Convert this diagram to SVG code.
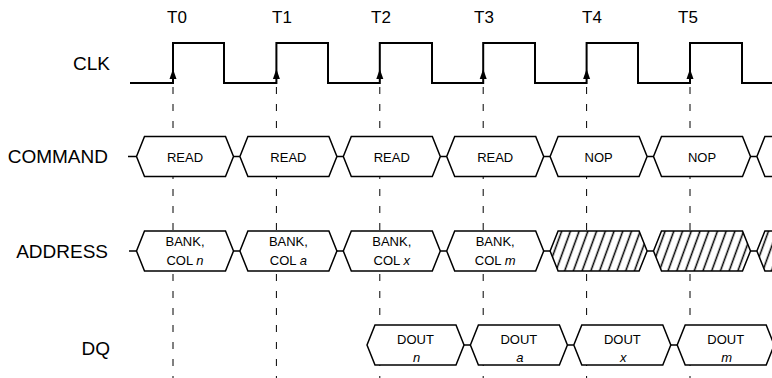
<svg xmlns="http://www.w3.org/2000/svg" xmlns:xlink="http://www.w3.org/1999/xlink" width="772" height="378" viewBox="0 0 772 378">
<style>
.lbl{font-family:"Liberation Sans",Arial,sans-serif;font-size:19px;fill:#000;text-anchor:end}
.tl{font-family:"Liberation Sans",Arial,sans-serif;font-size:17px;fill:#000;text-anchor:middle}
.bt{font-family:"Liberation Sans",Arial,sans-serif;font-size:13px;fill:#000;text-anchor:middle}
.box{fill:#fff;stroke:#000;stroke-width:1.5;stroke-linejoin:miter}
.hat{fill:url(#hatch);stroke:#000;stroke-width:1.5}
.wire{fill:none;stroke:#000;stroke-width:1.5}
.clk{fill:none;stroke:#000;stroke-width:2}
.dash{stroke:#000;stroke-width:1;stroke-dasharray:7 10}
.i{font-style:italic}
</style>
<defs>
<path id="hex" d="M0,0 L8,-20 L89,-20 L97,0 L89,20 L8,20 Z"/>
<pattern id="hatch" patternUnits="userSpaceOnUse" width="8.2" height="10" patternTransform="rotate(20)">
<rect x="0" y="0" width="8.2" height="10" fill="#fff"/>
<line x1="4.1" y1="-1" x2="4.1" y2="11" stroke="#000" stroke-width="1.5"/>
</pattern>
</defs>
<rect width="772" height="378" fill="#fff"/>

<g id="labels">
<text class="tl" x="177" y="23">T0</text>
<text class="tl" x="282" y="23">T1</text>
<text class="tl" x="381" y="23">T2</text>
<text class="tl" x="484" y="23">T3</text>
<text class="tl" x="592" y="23">T4</text>
<text class="tl" x="688" y="23">T5</text>
<text class="lbl" x="110" y="70">CLK</text>
<text class="lbl" x="108" y="163">COMMAND</text>
<text class="lbl" x="108" y="258">ADDRESS</text>
<text class="lbl" x="110" y="355">DQ</text>
</g>

<g id="connectors">
<line class="dash" x1="173" y1="87" x2="173" y2="378"/>
<line class="dash" x1="276.4" y1="87" x2="276.4" y2="378"/>
<line class="dash" x1="379.8" y1="87" x2="379.8" y2="378"/>
<line class="dash" x1="483.2" y1="87" x2="483.2" y2="378"/>
<line class="dash" x1="586.6" y1="87" x2="586.6" y2="378"/>
<line class="dash" x1="690" y1="87" x2="690" y2="378"/>
<path class="wire" d="M128,156.5 H136.5 M233.5,156.5 H239.9 M336.9,156.5 H343.3 M440.3,156.5 H446.7 M543.7,156.5 H550.1 M647.1,156.5 H653.5 M750.5,156.5 H756.9"/>
<path class="wire" d="M129,251 H136.5 M233.5,251 H239.9 M336.9,251 H343.3 M440.3,251 H446.7 M543.7,251 H550.1 M647.1,251 H653.5 M750.5,251 H756.9"/>
<path class="wire" d="M464,345 H470.4 M567.4,345 H573.8 M670.8,345 H677.2"/>
</g>

<g id="clk">
<path class="clk" d="M130,83 H173 V43 H224 V83 H276.4 V43 H328 V83 H379.8 V43 H432 V83 H483.2 V43 H535 V83 H586.6 V43 H638 V83 H690 V43 H742 V83 H772"/>
<polygon points="173,69 169.5,79 176.5,79"/>
<polygon points="276.4,69 272.9,79 279.9,79"/>
<polygon points="379.8,69 376.3,79 383.3,79"/>
<polygon points="483.2,69 479.7,79 486.7,79"/>
<polygon points="586.6,69 583.1,79 590.1,79"/>
<polygon points="690,69 686.5,79 693.5,79"/>
</g>

<g id="cmd0"><use class="box" xlink:href="#hex" x="136.5" y="156.5"/><text class="bt" x="185" y="161.5">READ</text></g>
<g id="cmd1"><use class="box" xlink:href="#hex" x="239.9" y="156.5"/><text class="bt" x="288.4" y="161.5">READ</text></g>
<g id="cmd2"><use class="box" xlink:href="#hex" x="343.3" y="156.5"/><text class="bt" x="391.8" y="161.5">READ</text></g>
<g id="cmd3"><use class="box" xlink:href="#hex" x="446.7" y="156.5"/><text class="bt" x="495.2" y="161.5">READ</text></g>
<g id="cmd4"><use class="box" xlink:href="#hex" x="550.1" y="156.5"/><text class="bt" x="598.6" y="161.5">NOP</text></g>
<g id="cmd5"><use class="box" xlink:href="#hex" x="653.5" y="156.5"/><text class="bt" x="702" y="161.5">NOP</text></g>
<g id="cmd6"><use class="box" xlink:href="#hex" x="756.9" y="156.5"/></g>

<g id="addr0"><use class="box" xlink:href="#hex" x="136.5" y="251"/><text class="bt" x="185" y="246">BANK,</text><text class="bt" x="185" y="265">COL <tspan class="i">n</tspan></text></g>
<g id="addr1"><use class="box" xlink:href="#hex" x="239.9" y="251"/><text class="bt" x="288.4" y="246">BANK,</text><text class="bt" x="288.4" y="265">COL <tspan class="i">a</tspan></text></g>
<g id="addr2"><use class="box" xlink:href="#hex" x="343.3" y="251"/><text class="bt" x="391.8" y="246">BANK,</text><text class="bt" x="391.8" y="265">COL <tspan class="i">x</tspan></text></g>
<g id="addr3"><use class="box" xlink:href="#hex" x="446.7" y="251"/><text class="bt" x="495.2" y="246">BANK,</text><text class="bt" x="495.2" y="265">COL <tspan class="i">m</tspan></text></g>
<g id="addr4"><use class="hat" xlink:href="#hex" x="550.1" y="251"/></g>
<g id="addr5"><use class="hat" xlink:href="#hex" x="653.5" y="251"/></g>
<g id="addr6"><use class="hat" xlink:href="#hex" x="756.9" y="251"/></g>

<g id="dq0"><use class="box" xlink:href="#hex" x="367" y="345"/><text class="bt" x="415.5" y="344">DOUT</text><text class="bt i" x="416.5" y="362">n</text></g>
<g id="dq1"><use class="box" xlink:href="#hex" x="470.4" y="345"/><text class="bt" x="518.9" y="344">DOUT</text><text class="bt i" x="519.9" y="362">a</text></g>
<g id="dq2"><use class="box" xlink:href="#hex" x="573.8" y="345"/><text class="bt" x="622.3" y="344">DOUT</text><text class="bt i" x="623.3" y="362">x</text></g>
<g id="dq3"><use class="box" xlink:href="#hex" x="677.2" y="345"/><text class="bt" x="725.7" y="344">DOUT</text><text class="bt i" x="726.7" y="362">m</text></g>
</svg>
